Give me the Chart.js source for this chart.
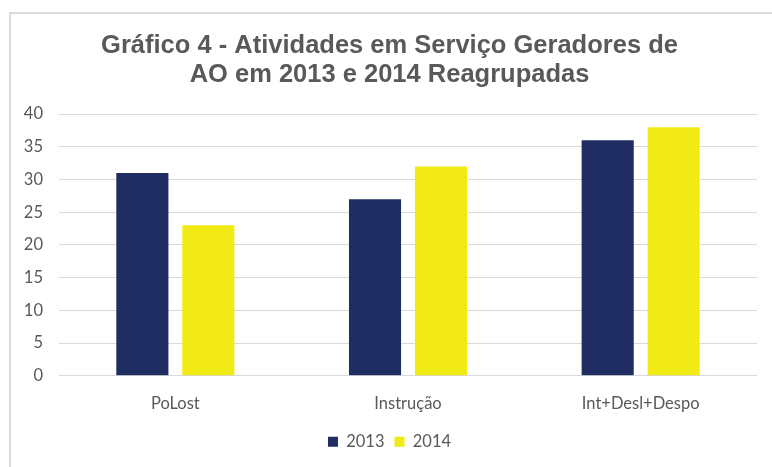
<!DOCTYPE html>
<html>
<head>
<meta charset="utf-8">
<script src="https://cdn.jsdelivr.net/npm/chart.js@4.4.1/dist/chart.umd.min.js"></script>
<style>
    body { margin: 0; background: #fff; overflow: hidden; }
    .frame { position: absolute; left: 9px; top: 12px; width: 800px; height: 500px; border: 2px solid #d9d9d9; }
    .wrap { position: absolute; left: 0; top: 0; width: 772px; height: 467px; }
</style>
</head>
<body>
<div class="frame"></div>
<div class="wrap"><canvas id="chart-ao"></canvas></div>
<script>
// Dados do gráfico
var categories = ['PoLost', 'Instrução', 'Int+Desl+Despo'];
var values2013 = [31, 27, 36];
var values2014 = [23, 32, 38];
var seriesLabels = ['2013', '2014'];

const ctx = document.getElementById('chart-ao').getContext('2d');
const myChart = new Chart(ctx, {
    type: 'bar',
    data: {
        labels: categories,
        datasets: [{
            label: seriesLabels[0],
            data: values2013,
            backgroundColor: '#1f2d62'
        }, {
            label: seriesLabels[1],
            data: values2014,
            backgroundColor: '#f2ea15'
        }]
    },
    options: {
        responsive: true,
        maintainAspectRatio: false,
        animation: false,
        categoryPercentage: 0.567,
        barPercentage: 0.79,
        layout: { padding: { left: 22, right: 15, bottom: 7 } },
        plugins: {
            title: {
                display: true,
                text: ['Gráfico 4 - Atividades em Serviço Geradores de', 'AO em 2013 e 2014 Reagrupadas'],
                color: '#595959',
                font: { family: 'Liberation Sans, Arial, sans-serif', size: 25.5, weight: 'bold', lineHeight: 1.14 },
                padding: { top: 31, bottom: 25 }
            },
            legend: {
                position: 'bottom',
                labels: {
                    color: '#595959',
                    font: { family: 'Lato, sans-serif', size: 16.5 },
                    boxWidth: 10,
                    boxHeight: 10,
                    padding: 10
                }
            },
            tooltip: { enabled: false }
        },
        scales: {
            x: {
                grid: { display: false },
                border: { display: false },
                ticks: { color: '#595959', font: { family: 'Lato, sans-serif', size: 16.5 }, padding: 10 }
            },
            y: {
                min: 0,
                max: 40,
                afterFit: function (scale) { scale.width = 37; },
                ticks: { stepSize: 5, color: '#595959', font: { family: 'Lato, sans-serif', size: 16.5 }, padding: 16 },
                grid: { color: '#d9d9d9', drawTicks: false },
                border: { display: false }
            }
        }
    }
});
</script>
</body>
</html>
